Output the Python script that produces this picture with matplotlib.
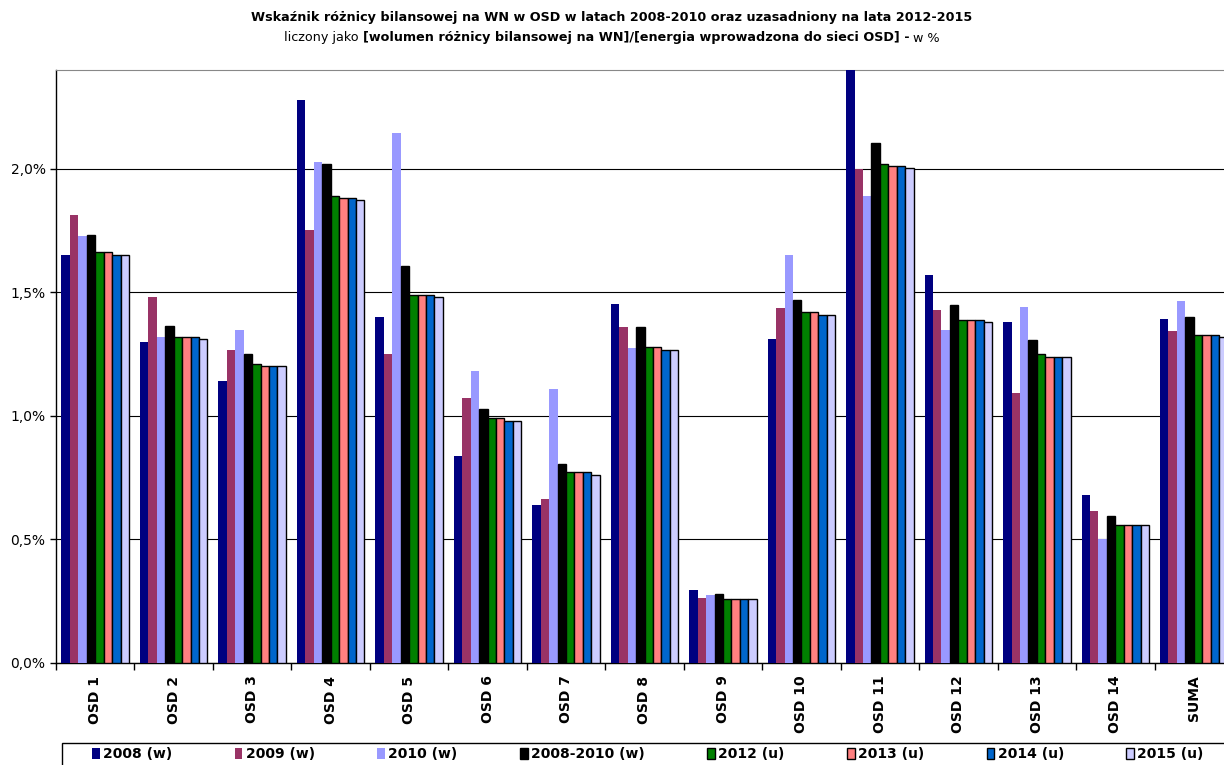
import matplotlib
matplotlib.use('Agg')
import matplotlib.pyplot as plt
from matplotlib.patches import Rectangle
import numpy as np

plt.rcParams['font.family'] = ['DejaVu Sans']

# dane (w %)
categories = ['OSD 1', 'OSD 2', 'OSD 3', 'OSD 4', 'OSD 5', 'OSD 6', 'OSD 7', 'OSD 8',
              'OSD 9', 'OSD 10', 'OSD 11', 'OSD 12', 'OSD 13', 'OSD 14', 'SUMA']
series_names = ['2008 (w)', '2009 (w)', '2010 (w)', '2008-2010 (w)',
                '2012 (u)', '2013 (u)', '2014 (u)', '2015 (u)']

v2008 = [1.651, 1.298, 1.141, 2.279, 1.401, 0.837, 0.639, 1.453, 0.295, 1.313, 2.45, 1.572, 1.381, 0.679, 1.391]
v2009 = [1.814, 1.481, 1.266, 1.753, 1.250, 1.071, 0.665, 1.360, 0.264, 1.436, 2.000, 1.427, 1.094, 0.617, 1.342]
v2010 = [1.728, 1.321, 1.349, 2.026, 2.144, 1.181, 1.109, 1.273, 0.275, 1.653, 1.889, 1.349, 1.440, 0.500, 1.464]
v0810 = [1.731, 1.365, 1.252, 2.019, 1.606, 1.026, 0.804, 1.360, 0.278, 1.468, 2.104, 1.450, 1.309, 0.596, 1.399]
v2012 = [1.662, 1.321, 1.212, 1.891, 1.490, 0.990, 0.771, 1.280, 0.260, 1.419, 2.021, 1.388, 1.251, 0.559, 1.329]
v2013 = [1.662, 1.321, 1.202, 1.881, 1.490, 0.990, 0.771, 1.280, 0.260, 1.419, 2.010, 1.388, 1.239, 0.559, 1.329]
v2014 = [1.652, 1.321, 1.202, 1.881, 1.490, 0.981, 0.771, 1.268, 0.260, 1.408, 2.010, 1.388, 1.239, 0.559, 1.329]
v2015 = [1.652, 1.311, 1.202, 1.872, 1.481, 0.981, 0.761, 1.268, 0.260, 1.408, 2.002, 1.381, 1.239, 0.559, 1.319]

values = [v2008, v2009, v2010, v0810, v2012, v2013, v2014, v2015]
colors = ['#000080', '#993366', '#9999FF', '#000000', '#008000', '#FF8080', '#0066CC', '#CCCCFF']
edged = [False, False, False, True, True, True, True, True]

W, H = 1224, 765
fig = plt.figure(figsize=(W / 100, H / 100), dpi=100)
ax = fig.add_axes([56 / W, 1 - 663 / H, 1177 / W, (663 - 70) / H])

x = np.arange(len(categories))
n = len(values)
group_w = 0.86
bw = group_w / n
handles = []
for i, (vals, c, e) in enumerate(zip(values, colors, edged)):
    off = -group_w / 2 + bw * (i + 0.5)
    b = ax.bar(x + off, vals, bw, color=c,
               edgecolor='black' if e else c, linewidth=1.0 if e else 0,
               label=series_names[i], zorder=3)
    handles.append(b)

ax.set_xlim(-0.5, len(categories) - 0.5)
ax.set_ylim(0, 2.4)
yt = np.arange(0, 2.01, 0.5)
ax.set_yticks(yt)
ax.set_yticklabels([('%.1f%%' % t).replace('.', ',') for t in yt], fontsize=10)
ax.yaxis.grid(True, color='black', linewidth=0.8, zorder=0)
ax.set_axisbelow(True)

ax.set_xticks(x)
ax.set_xticklabels(categories, rotation=90, fontsize=10, fontweight='bold')
ax.set_xticks(np.arange(-0.5, len(categories), 1), minor=True)
ax.tick_params(axis='x', which='major', length=0, pad=9)
ax.tick_params(axis='x', which='minor', length=5, direction='out', width=1)
ax.tick_params(axis='y', length=4, direction='out', width=1)

ax.spines['top'].set_color('#888888')
ax.spines['right'].set_visible(False)
ax.spines['left'].set_linewidth(1)
ax.spines['bottom'].set_linewidth(1)

# tytuł
fig.text(0.5, 1 - 18 / H, 'Wskaźnik różnicy bilansowej na WN w OSD w latach 2008-2010 oraz uzasadniony na lata 2012-2015',
         ha='center', va='center', fontsize=9.2, fontweight='bold')

parts = [('liczony jako ', 'normal'),
         ('[wolumen różnicy bilansowej na WN]/[energia wprowadzona do sieci OSD] -', 'bold'),
         (' w %', 'normal')]
renderer = fig.canvas.get_renderer()
texts = []
widths = []
for s, w in parts:
    t = fig.text(0, 1 - 38 / H, s, ha='left', va='center', fontsize=9.2, fontweight=w)
    bb = t.get_window_extent(renderer)
    texts.append(t)
    widths.append(bb.width)
total = sum(widths)
xpos = (W - total) / 2
for t, w in zip(texts, widths):
    t.set_x(xpos / W)
    xpos += w

# legenda
fig.patches.append(Rectangle((62 / W, -0.01), 1.0, (765 - 743) / H + 0.01,
                             transform=fig.transFigure, facecolor='white',
                             edgecolor='black', linewidth=1, zorder=0))
leg = fig.legend(handles=handles, loc='upper left', ncol=8, mode='expand',
                 bbox_to_anchor=(88 / W, 1 - 743 / H, (1208 - 88) / W, 0),
                 frameon=False,
                 prop={'weight': 'bold', 'size': 10},
                 handlelength=0.55, handleheight=0.9, handletextpad=0.25,
                 borderaxespad=0, borderpad=0.3)

fig.savefig('out.png', dpi=100)
